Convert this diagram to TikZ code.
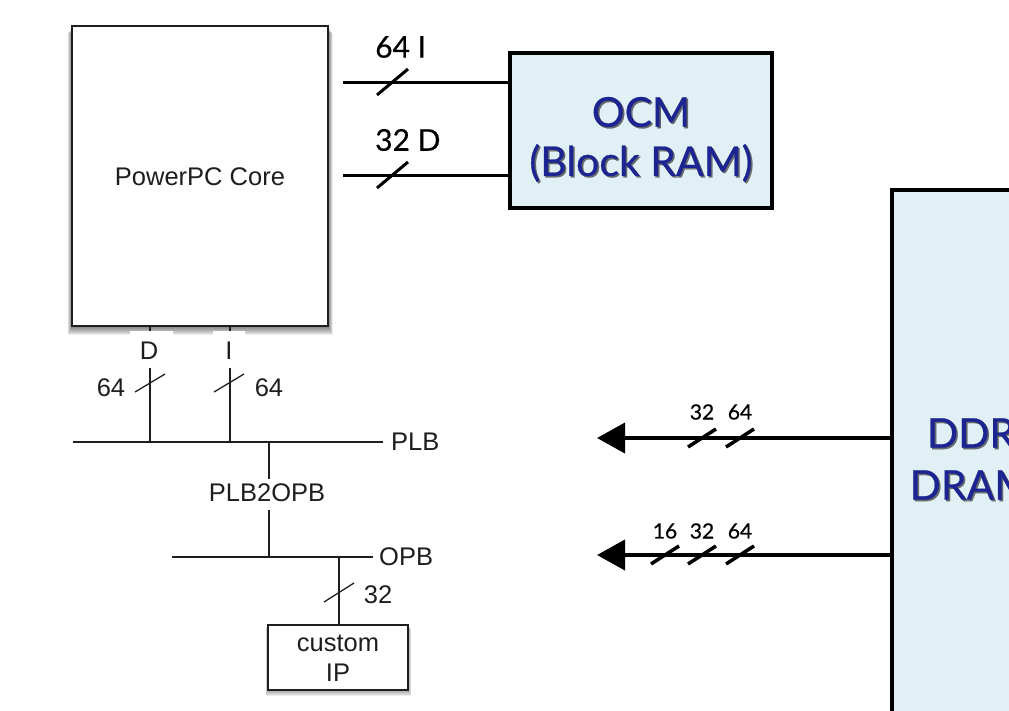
\documentclass[tikz,border=0pt]{standalone}
\usepackage{fontspec}
\setmainfont{Lato}
\newfontfamily\gill[FakeBold=0.5]{Lato}
\newfontfamily\helv{Liberation Sans}
\usetikzlibrary{arrows.meta}
\definecolor{navy}{RGB}{28,36,145}
\definecolor{boxfill}{RGB}{225,240,244}
\definecolor{ink}{RGB}{30,30,30}
\tikzset{
  ppcbox/.style={draw=ink, line width=1.6pt, fill=white, inner sep=0pt, outer sep=0pt, anchor=north west},
  bluebox/.style={draw=black, line width=4pt, fill=boxfill, inner sep=0pt, outer sep=0pt, anchor=north west},
  thinline/.style={draw=ink, line width=1.5pt},
  thickline/.style={draw=black, line width=3pt},
  arrline/.style={draw=black, line width=4pt, -{Triangle[length=28pt,width=30pt]}},
  thinslash/.style={draw=ink, line width=1.3pt},
  thickslash/.style={draw=black, line width=3pt},
  arrslash/.style={draw=black, line width=3.5pt},
  helvtext/.style={font=\helv\fontsize{25.5}{27}\selectfont, text=ink, inner sep=0pt},
  bigtext/.style={font=\gill\fontsize{41}{44}\selectfont, text=navy, inner sep=0pt},
  bigshadow/.style={font=\gill\fontsize{41}{44}\selectfont, text=black!70, opacity=0.8, inner sep=0pt},
  midtext/.style={font=\gill\fontsize{30}{32}\selectfont, text=black, inner sep=0pt},
  smalltext/.style={font=\gill\fontsize{21}{23}\selectfont, text=black, inner sep=0pt},
}
\begin{document}
\begin{tikzpicture}[x=1pt,y=-1pt]
\useasboundingbox (0,0) rectangle (1009,710);
\clip (0,0) rectangle (1009,710);

% shadow of PowerPC core box
\foreach \i in {1,...,9}{
  \fill[black, opacity=0.07] (72-0.5*\i,26+0.8*\i) rectangle (328+0.5*\i,326+1.0*\i);
}
\node[ppcbox, minimum width=256pt, minimum height=300pt] (ppc) at (72,26) {};
\node[helvtext] (ppctext) at (200,177) {PowerPC Core};

% OCM box
\node[bluebox, minimum width=262pt, minimum height=155pt] (ocm) at (510,53) {};
\node[bigshadow] at (642.5,113.5) {OCM};
\node[bigtext] (ocm1) at (641,112) {OCM};
\node[bigshadow] at (642.5,164.5) {(Block RAM)};
\node[bigtext] (ocm2) at (641,163) {(Block RAM)};

% OCM connectors
\coordinate (ocmI) at (343,82);
\coordinate (ocmD) at (343,175);
\draw[thickline] (ocmI) -- (ocmI -| ocm.west);
\draw[thickline] (ocmD) -- (ocmD -| ocm.west);
\draw[thickslash] (377,95) -- (408,69);
\draw[thickslash] (377,188) -- (408,162);
\node[midtext, anchor=west] (l64I) at (375,47) {64 I};
\node[midtext, anchor=west] (l32D) at (375,140) {32 D};

% DDR box
\node[bluebox, minimum width=300pt, minimum height=600pt] (ddr) at (892,190) {};
\node[bigshadow] at (972.5,434.5) {DDR};
\node[bigtext] (ddr1) at (971,433) {DDR};
\node[bigshadow] at (972.5,486.5) {DRAM};
\node[bigtext] (ddr2) at (971,485) {DRAM};

% DDR arrows
\coordinate (a1) at (597,438);
\coordinate (a2) at (597,555);
\draw[arrline] (a1 -| ddr.west) -- (a1);
\draw[arrline] (a2 -| ddr.west) -- (a2);
\foreach \x in {702,740}{
  \draw[arrslash] (\x-14,447) -- (\x+14,429);
}
\foreach \x in {665,702,740}{
  \draw[arrslash] (\x-14,564) -- (\x+14,546);
}
\node[smalltext] (t32a) at (702,412) {32};
\node[smalltext] (t64a) at (740,412) {64};
\node[smalltext] (t16b) at (665,531) {16};
\node[smalltext] (t32b) at (702,531) {32};
\node[smalltext] (t64b) at (740,531) {64};

% PLB / OPB buses
\coordinate (plbL) at (73,442);
\coordinate (plbR) at (383,442);
\coordinate (opbL) at (172,557);
\coordinate (opbR) at (373,557);
\draw[thinline] (plbL) -- (plbR);
\draw[thinline] (opbL) -- (opbR);
\node[helvtext, anchor=west] (plb) at (391,442) {PLB};
\node[helvtext, anchor=west] (opb) at (379,557) {OPB};

% D and I ports
\draw[thinline] (150,326) -- (150,332);
\draw[thinline] (230,326) -- (230,332);
\fill[white] (130,331) rectangle (173,362);
\fill[white] (213,331) rectangle (245,362);
\node[helvtext] (dlab) at (149,351) {D};
\node[helvtext] (ilab) at (229,351) {I};
\coordinate (dtop) at (150,368);
\coordinate (itop) at (230,368);
\draw[thinline] (dtop) -- (dtop |- plbL);
\draw[thinline] (itop) -- (itop |- plbL);
\draw[thinslash] (135,392) -- (165,374);
\draw[thinslash] (214,392) -- (244,374);
\node[helvtext] (d64) at (111,388) {64};
\node[helvtext] (i64) at (269,388) {64};

% PLB2OPB bridge
\node[helvtext] (bridge) at (267,493) {PLB2OPB};
\coordinate (brX) at (269,442);
\coordinate (brTop) at (269,479);
\coordinate (brBot) at (269,510);
\draw[thinline] (brX) -- (brTop);
\draw[thinline] (brBot) -- (brBot |- opbL);

% custom IP
\foreach \i in {1,...,6}{
  \fill[black, opacity=0.07] (268-0.4*\i,625+0.6*\i) rectangle (408+0.5*\i,690+1.0*\i);
}
\node[ppcbox, minimum width=140pt, minimum height=65pt] (ip) at (268,625) {};
\node[helvtext] (iptext1) at (338,643) {custom};
\node[helvtext] (iptext2) at (338,673) {IP};
\coordinate (ipX) at (339,557);
\draw[thinline] (ipX) -- (ipX |- ip.north);
\draw[thinslash] (324,602) -- (354,583);
\node[helvtext] (ip32) at (378,595) {32};
\end{tikzpicture}
\end{document}
